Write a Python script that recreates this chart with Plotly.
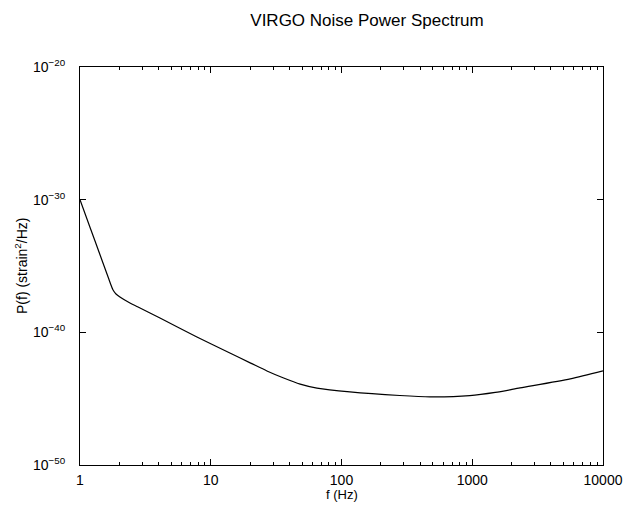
import plotly.graph_objects as go

# Frequency (Hz) and log10 of noise power P(f)
freq = [1.0, 1.19, 1.42, 1.64, 1.79, 1.885, 2.02, 2.41, 2.78, 4.09, 7.84,
        14.0, 20.2, 26.9, 35.7, 48.3, 64.9, 116, 279, 476, 957, 1500, 2320, 5620, 10000]
log_p = [-30.0, -32.06, -34.13, -35.83, -36.81, -37.11, -37.34, -37.79, -38.09,
         -38.92, -40.35, -41.56, -42.32, -42.91, -43.42, -43.90, -44.20, -44.49,
         -44.76, -44.86, -44.77, -44.53, -44.19, -43.51, -42.91]
power = [10 ** v for v in log_p]

x_tickvals = [1, 10, 100, 1000, 10000]
x_ticktext = ["1", "10", "100", "1000", "10000"]
y_tickvals = [1e-50, 1e-40, 1e-30, 1e-20]
y_ticktext = ["10<sup>−50</sup>", "10<sup>−40</sup>", "10<sup>−30</sup>", "10<sup>−20</sup>"]

FAM = "Liberation Sans, Arial, sans-serif"
W, H = 623, 506

fig = go.Figure()
fig.add_trace(go.Scatter(x=freq, y=power, mode="lines",
                         line=dict(color="black", width=1.2, shape="spline", smoothing=0.7),
                         showlegend=False))

tick_font = dict(family=FAM, size=14, color="black")

fig.update_layout(
    width=W, height=H,
    margin=dict(l=80, r=20, t=67, b=41),
    paper_bgcolor="white", plot_bgcolor="white",
    font=dict(family=FAM, size=13, color="black"),
    title=dict(text="VIRGO Noise Power Spectrum", x=367 / W, xanchor="center",
               xref="container", y=1 - 20 / H, yref="container", yanchor="middle",
               font=dict(family=FAM, size=17, color="black")),
    xaxis=dict(type="log", range=[0, 4], tickvals=x_tickvals, ticktext=x_ticktext,
               ticks="inside", ticklen=6, tickcolor="black", showline=True,
               linecolor="black", linewidth=1, mirror="ticks", showgrid=False,
               zeroline=False, automargin=False, ticklabelstandoff=2,
               minor=dict(ticks="inside", ticklen=3, tickcolor="black", dtick="D1", showgrid=False),
               tickfont=tick_font),
    yaxis=dict(type="log", range=[-50, -20], tickvals=y_tickvals, ticktext=y_ticktext,
               ticks="inside", ticklen=6, tickcolor="black", showline=True,
               linecolor="black", linewidth=1, mirror="ticks", showgrid=False,
               zeroline=False, automargin=False, ticklabelstandoff=11,
               tickfont=tick_font),
)
fig.add_annotation(text="f (Hz)", x=0.5, xref="paper", y=0, yref="paper",
                   yanchor="middle", yshift=-29, showarrow=False,
                   font=dict(family=FAM, size=13, color="black"))
fig.add_annotation(text="P(f) (strain<sup>2</sup>/Hz)", x=0, xref="paper", y=0.5, yref="paper",
                   xanchor="center", xshift=-59, textangle=-90, showarrow=False,
                   font=dict(family=FAM, size=14, color="black"))

fig.write_html("out.html", config={"displayModeBar": False},
               post_script="document.body.style.margin='0';document.body.style.overflow='hidden';")
